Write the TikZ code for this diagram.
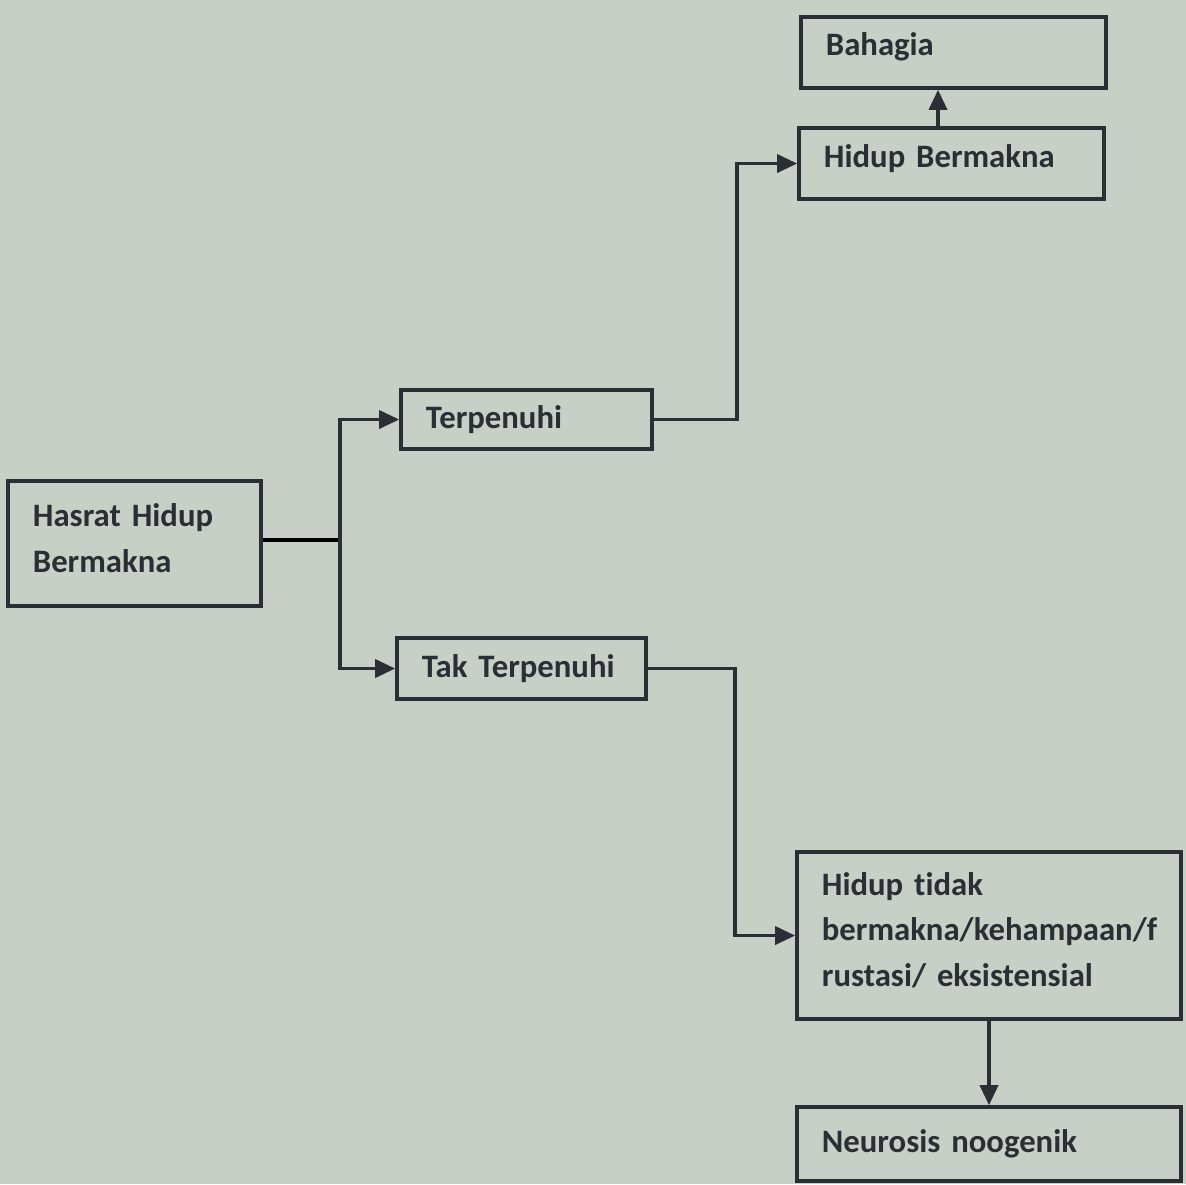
\documentclass[tikz,border=0pt]{standalone}
\usepackage{fontspec}
\setmainfont{Carlito}[Ligatures=CommonOff]
\usepackage{tikz}
\usetikzlibrary{arrows.meta}
\usetikzlibrary{positioning}
\definecolor{paper}{RGB}{199,207,199}
\definecolor{ink}{RGB}{43,46,52}
\newcommand{\boxfont}{\bfseries\fontsize{9.3}{13}\selectfont\fontdimen2\font=1.2pt\relax}
\tikzstyle{box}=[draw=ink,text=ink,rectangle,align=left,inner xsep=0.25cm,font=\boxfont]
\tikzstyle{conn}=[draw=ink,-{Triangle[length=2mm,width=1.8mm]}]
\newcommand{\upline}[1]{#1\par\vspace{3pt}}

\begin{document}
\begin{tikzpicture}[line width=1pt,x=0.01cm,y=-0.01cm]
\fill[paper] (0,0) rectangle (1186,1184);
\useasboundingbox (0,0) rectangle (1186,1184);
\node [box,text width=2.55cm,minimum height=0.71cm] (bahagia) at (953.5,52.5) {\upline{Bahagia}};
\node [box,text width=2.55cm,minimum height=0.71cm] (bermakna) at (951.5,163.5) {\upline{Hidup Bermakna}};
\node [box,text width=2.01cm,minimum height=0.59cm] (penuh) at (526.5,419.5) {Terpenuhi};
\node [box,text width=1.99cm,minimum height=0.61cm] (takpenuh) at (521.5,668.5) {Tak Terpenuhi};
\node [box,text width=2.03cm,minimum height=1.25cm] (hasrat) at (134.5,543.5) {\upline{Hasrat Hidup\\Bermakna}};
\node [box,text width=3.34cm,minimum height=1.67cm] (hampa) at (989,935.5) {\upline{Hidup tidak\\bermakna/kehampaan/f\\rustasi/ eksistensial}};
\node [box,text width=3.34cm,minimum height=0.74cm] (neurosis) at (989,1144) {Neurosis noogenik};
% cabang dari hasrat
\coordinate (split) at (340,540);
\draw (hasrat.east |- split) -- (split);
\draw[conn] (split) |- (penuh.west);
\draw[conn] (split) |- (takpenuh.west);
% ke hidup bermakna / tidak bermakna
\coordinate (up) at (737,419.5);
\draw[conn] (penuh.east) -- (up) |- (bermakna.west);
\coordinate (down) at (735,668.5);
\draw[conn] (takpenuh.east) -- (down) |- (hampa.west);
\coordinate (b) at (938,128);
\draw[conn] (b) -- (b |- bahagia.south);
\draw[conn] (hampa.south) -- (neurosis.north);
\end{tikzpicture}
\end{document}
